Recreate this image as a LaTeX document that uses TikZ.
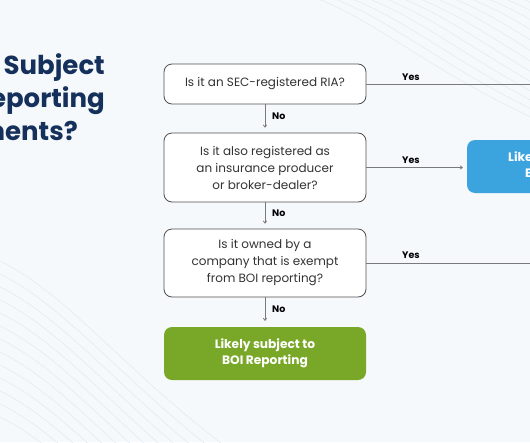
\documentclass[tikz,border=0pt]{standalone}
\usepackage{fontspec}
\setmainfont{Poppins}
\usetikzlibrary{arrows.meta,calc}
\definecolor{bgc}{HTML}{F5F9FC}
\definecolor{wavec}{HTML}{E3EBF3}
\definecolor{navy}{HTML}{15305A}
\definecolor{boxline}{HTML}{505050}
\definecolor{txt}{HTML}{333333}
\definecolor{conn}{HTML}{7A7A7A}
\definecolor{greenc}{HTML}{79A829}
\definecolor{bluec}{HTML}{3BA3DE}
\tikzset{
  qbox/.style={draw=boxline, line width=0.8pt, fill=white, rounded corners=8pt,
    minimum width=202pt, align=center, text=txt, font=\fontsize{12}{17}\selectfont, inner sep=0pt},
  rbox/.style={rounded corners=8pt, minimum width=202pt, align=center, text=white,
    font=\bfseries\fontsize{12.2}{15.5}\selectfont, inner sep=0pt},
  conline/.style={draw=conn, line width=0.8pt},
  conarrow/.style={conline, -{To[length=3pt,width=4pt]}},
  lbl/.style={font=\bfseries\fontsize{9.5}{11}\selectfont, text=black, inner sep=0pt},
  ttl/.style={font=\bfseries\fontsize{26}{30}\selectfont, text=navy, anchor=base east, inner sep=0pt},
  wave/.style={draw=wavec, line width=0.6pt}
}
\begin{document}
\begin{tikzpicture}[x=1pt,y=-1pt]
\useasboundingbox (0,0) rectangle (530,442);
\clip (0,0) rectangle (530,442);
\fill[bgc] (0,0) rectangle (530,442);
% faint waves
\foreach \i in {0,...,14}{
  \draw[wave] (290+17*\i,-10) .. controls (370+17*\i,10) and (420+17*\i,70) .. (560+17*\i,130);
}
\foreach \i in {0,...,12}{
  \draw[wave] (-30,250+13*\i) .. controls (50,270+13*\i) and (110,360+13*\i) .. (230,450+13*\i);
}
% title
\node[ttl] (t1) at (105,74) {Is an RIA Subject};
\node[ttl] (t2) at (105,107) {to BOI Reporting};
\node[ttl] (t3) at (78,140) {Requirements?};
% boxes
\node[qbox, minimum height=40pt] (b1) at (265,84) {Is it an SEC-registered RIA?};
\node[qbox, minimum height=69pt] (b2) at (265,167.5) {Is it also registered as\\an insurance producer\\or broker-dealer?};
\node[qbox, minimum height=68pt] (b3) at (265,263) {Is it owned by a\\company that is exempt\\from BOI reporting?};
\node[rbox, fill=greenc, minimum height=53pt] (g) at (265,353.5) {Likely subject to\\BOI Reporting};
\node[rbox, fill=bluec, minimum height=53pt] (bl) at (568,166.5) {Likely exempt from\\BOI Reporting};
\coordinate (e1) at (540,84);
\coordinate (e3) at (540,263);
% connectors
\draw[conline] (b1.east) -- (e1);
\draw[conarrow, shorten >=4pt] (b2.east) -- (b2.east -| bl.west);
\draw[conline] (b3.east) -- (e3);
\draw[conarrow, shorten >=5pt] (b1.south) -- (b2.north);
\draw[conarrow, shorten >=5pt] (b2.south) -- (b3.north);
\draw[conarrow, shorten >=6pt] (b3.south) -- (g.north);
% labels
\node[lbl] (y1) at (411,77) {Yes};
\node[lbl] (y2) at (411,160) {Yes};
\node[lbl] (y3) at (411,255) {Yes};
\node[lbl, anchor=west] (n1) at (272,116) {No};
\node[lbl, anchor=west] (n2) at (272,213) {No};
\node[lbl, anchor=west] (n3) at (272,309) {No};
\end{tikzpicture}
\end{document}
